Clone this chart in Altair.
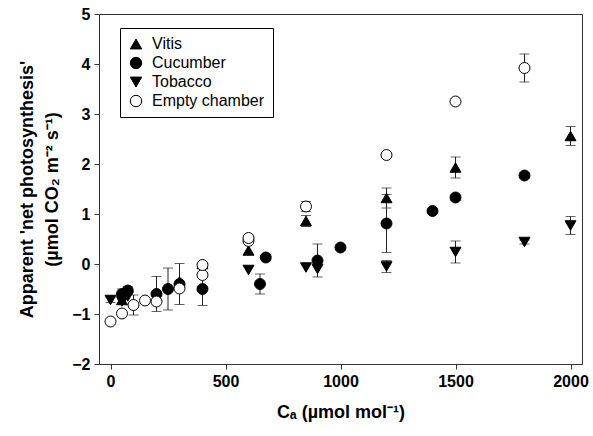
import altair as alt
import pandas as pd

# Ambient CO2 (Ca, µmol mol-1) and apparent net photosynthesis (µmol CO2 m-2 s-1)
series_order = ["Vitis", "Cucumber", "Tobacco", "Empty chamber"]

vitis_ca = [50, 200, 300, 400, 600, 850, 1200, 1500, 2000]
vitis_an = [-0.72, -0.65, -0.35, 0.0, 0.27, 0.86, 1.32, 1.93, 2.56]
vitis_se = [0, 0, 0, 0, 0, 0.11, 0.2, 0.21, 0.19]

cucumber_ca = [50, 75, 200, 250, 300, 400, 650, 675, 900, 1000, 1200, 1400, 1500, 1800]
cucumber_an = [-0.6, -0.53, -0.6, -0.5, -0.4, -0.5, -0.4, 0.13, 0.07, 0.33, 0.81, 1.06, 1.33, 1.77]
cucumber_se = [0.1, 0.08, 0.35, 0.42, 0.41, 0.33, 0.2, 0, 0.33, 0.05, 0.58, 0.05, 0.06, 0.06]

tobacco_ca = [0, 50, 75, 600, 850, 900, 1200, 1500, 1800, 2000]
tobacco_an = [-0.72, -0.75, -0.65, -0.12, -0.07, -0.1, -0.05, 0.24, 0.44, 0.77]
tobacco_se = [0.05, 0.05, 0, 0, 0, 0, 0.12, 0.22, 0.04, 0.18]

empty_ca = [0, 50, 100, 150, 200, 300, 400, 400, 600, 600, 850, 1200, 1500, 1800]
empty_an = [-1.15, -0.99, -0.82, -0.73, -0.75, -0.49, -0.22, -0.02, 0.46, 0.52, 1.15, 2.18, 3.25, 3.92]
empty_se = [0, 0, 0.2, 0, 0, 0, 0, 0.05, 0, 0.05, 0.1, 0.04, 0, 0.28]

rows = []
for name, xs, ys, es in [
    ("Vitis", vitis_ca, vitis_an, vitis_se),
    ("Cucumber", cucumber_ca, cucumber_an, cucumber_se),
    ("Tobacco", tobacco_ca, tobacco_an, tobacco_se),
    ("Empty chamber", empty_ca, empty_an, empty_se),
]:
    for x, y, e in zip(xs, ys, es):
        rows.append({"series": name, "ca": x, "an": y, "se": e, "lo": y - e, "hi": y + e})
df = pd.DataFrame(rows)
err_df = df[df["se"] > 0]

FONT = "Liberation Sans"

x_enc = alt.X(
    "ca:Q",
    scale=alt.Scale(domain=[-50, 2050], nice=False, zero=False),
    axis=alt.Axis(values=[0, 500, 1000, 1500, 2000], title="Cₐ (µmol mol⁻¹)", format="d"),
)
y_scale = alt.Scale(domain=[-2, 5], nice=False)
y_axis = alt.Axis(
    values=[-2, -1, 0, 1, 2, 3, 4, 5],
    title=["Apparent 'net photosynthesis'", "(µmol CO₂ m⁻² s⁻¹)"],
)

bars = alt.Chart(err_df).mark_rule(color="#222", strokeWidth=1).encode(
    x=x_enc,
    y=alt.Y("lo:Q", scale=y_scale, axis=y_axis),
    y2="hi:Q",
)
caps_hi = alt.Chart(err_df).mark_tick(orient="horizontal", size=10, thickness=1, color="#222").encode(
    x="ca:Q", y="hi:Q"
)
caps_lo = alt.Chart(err_df).mark_tick(orient="horizontal", size=10, thickness=1, color="#222").encode(
    x="ca:Q", y="lo:Q"
)

series_legend = alt.Legend(
    title=None,
    orient="none",
    legendX=21,
    legendY=14,
    strokeColor="black",
    fillColor="white",
    padding=8,
    labelFont=FONT,
    labelFontSize=16,
    labelColor="black",
    symbolSize=130,
    symbolStrokeWidth=1,
    rowPadding=3,
    labelOffset=8,
)

points = alt.Chart(df).mark_point(strokeWidth=1, opacity=1, fillOpacity=1, size=120).encode(
    x="ca:Q",
    y="an:Q",
    shape=alt.Shape(
        "series:N",
        scale=alt.Scale(domain=series_order, range=["triangle-up", "circle", "triangle-down", "circle"]),
        legend=series_legend,
    ),
    fill=alt.Fill(
        "series:N",
        scale=alt.Scale(domain=series_order, range=["black", "black", "black", "white"]),
        legend=series_legend,
    ),
    stroke=alt.Stroke(
        "series:N",
        scale=alt.Scale(domain=series_order, range=["black", "black", "black", "black"]),
        legend=series_legend,
    ),
)

chart = (
    alt.layer(bars, caps_hi, caps_lo, points)
    .properties(
        width=483,
        height=350,
        autosize=alt.AutoSizeParams(type="none"),
        padding={"left": 99, "top": 14, "right": 11, "bottom": 72},
    )
    .configure_view(stroke="#333", strokeWidth=1)
    .configure_axis(
        domainColor="#333",
        tickColor="#333",
        tickSize=5,
        grid=False,
        labelFont=FONT,
        labelFontSize=16,
        labelFontWeight="bold",
        labelColor="black",
        labelPadding=4,
        titleFont=FONT,
        titleFontSize=18,
        titleFontWeight="bold",
        titleColor="black",
    )
    .configure_axisX(titlePadding=14, labelFlush=False)
    .configure_axisY(titlePadding=10, titleLineHeight=25, labelFlush=False)
)

chart.save("out.html", embed_options={"renderer": "svg", "actions": False})
